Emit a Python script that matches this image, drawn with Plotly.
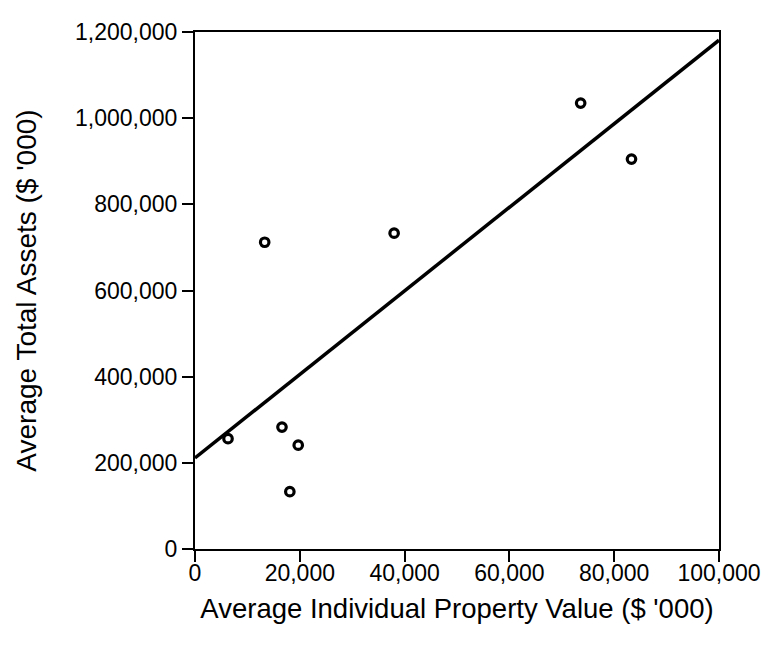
import numpy as np
import plotly.graph_objects as go

# Data (in $ '000)
property_value = [6300, 13300, 16600, 18100, 19700, 38000, 73600, 83300]
total_assets = [256000, 712000, 283000, 133000, 241000, 733000, 1035000, 905000]

x_ticks = [0, 20000, 40000, 60000, 80000, 100000]
y_ticks = [0, 200000, 400000, 600000, 800000, 1000000, 1200000]

slope, intercept = np.polyfit(property_value, total_assets, 1)
fit_x = [0, 100000]
fit_y = [intercept + slope * v for v in fit_x]

fig = go.Figure()
fig.add_trace(go.Scatter(x=fit_x, y=fit_y, mode="lines",
                         line=dict(color="black", width=3.5), showlegend=False))
fig.add_trace(go.Scatter(x=property_value, y=total_assets, mode="markers",
                         marker=dict(symbol="circle-open", size=8.5, color="black",
                                     line=dict(width=3.2, color="black")),
                         showlegend=False))

font_family = "Liberation Sans, Arial, sans-serif"
fig.update_layout(
    width=765, height=653,
    margin=dict(l=195, r=46, t=32, b=104),
    paper_bgcolor="white", plot_bgcolor="white",
    font=dict(family=font_family, size=23, color="black"),
)
fig.update_xaxes(
    range=[0, 100000], tickvals=x_ticks, tickformat=",",
    showline=True, linecolor="black", linewidth=2, mirror=True,
    ticks="outside", ticklen=11, tickwidth=1.5, tickcolor="black",
    showgrid=False, zeroline=False, automargin=False,
    tickfont=dict(size=23), ticklabelstandoff=-9,
    title=dict(text="Average Individual Property Value ($ '000)", font=dict(size=27.5), standoff=14),
)
fig.update_yaxes(
    range=[0, 1200000], tickvals=y_ticks, tickformat=",",
    showline=True, linecolor="black", linewidth=2, mirror=True,
    ticks="outside", ticklen=11, tickwidth=1.5, tickcolor="black",
    showgrid=False, zeroline=False, automargin=False,
    tickfont=dict(size=23),
    title=dict(text="Average Total Assets ($ '000)", font=dict(size=28), standoff=30),
)

fig.write_html("out.html", config={"displayModeBar": False},
               post_script="document.body.style.margin='0';document.body.style.overflow='hidden';")
